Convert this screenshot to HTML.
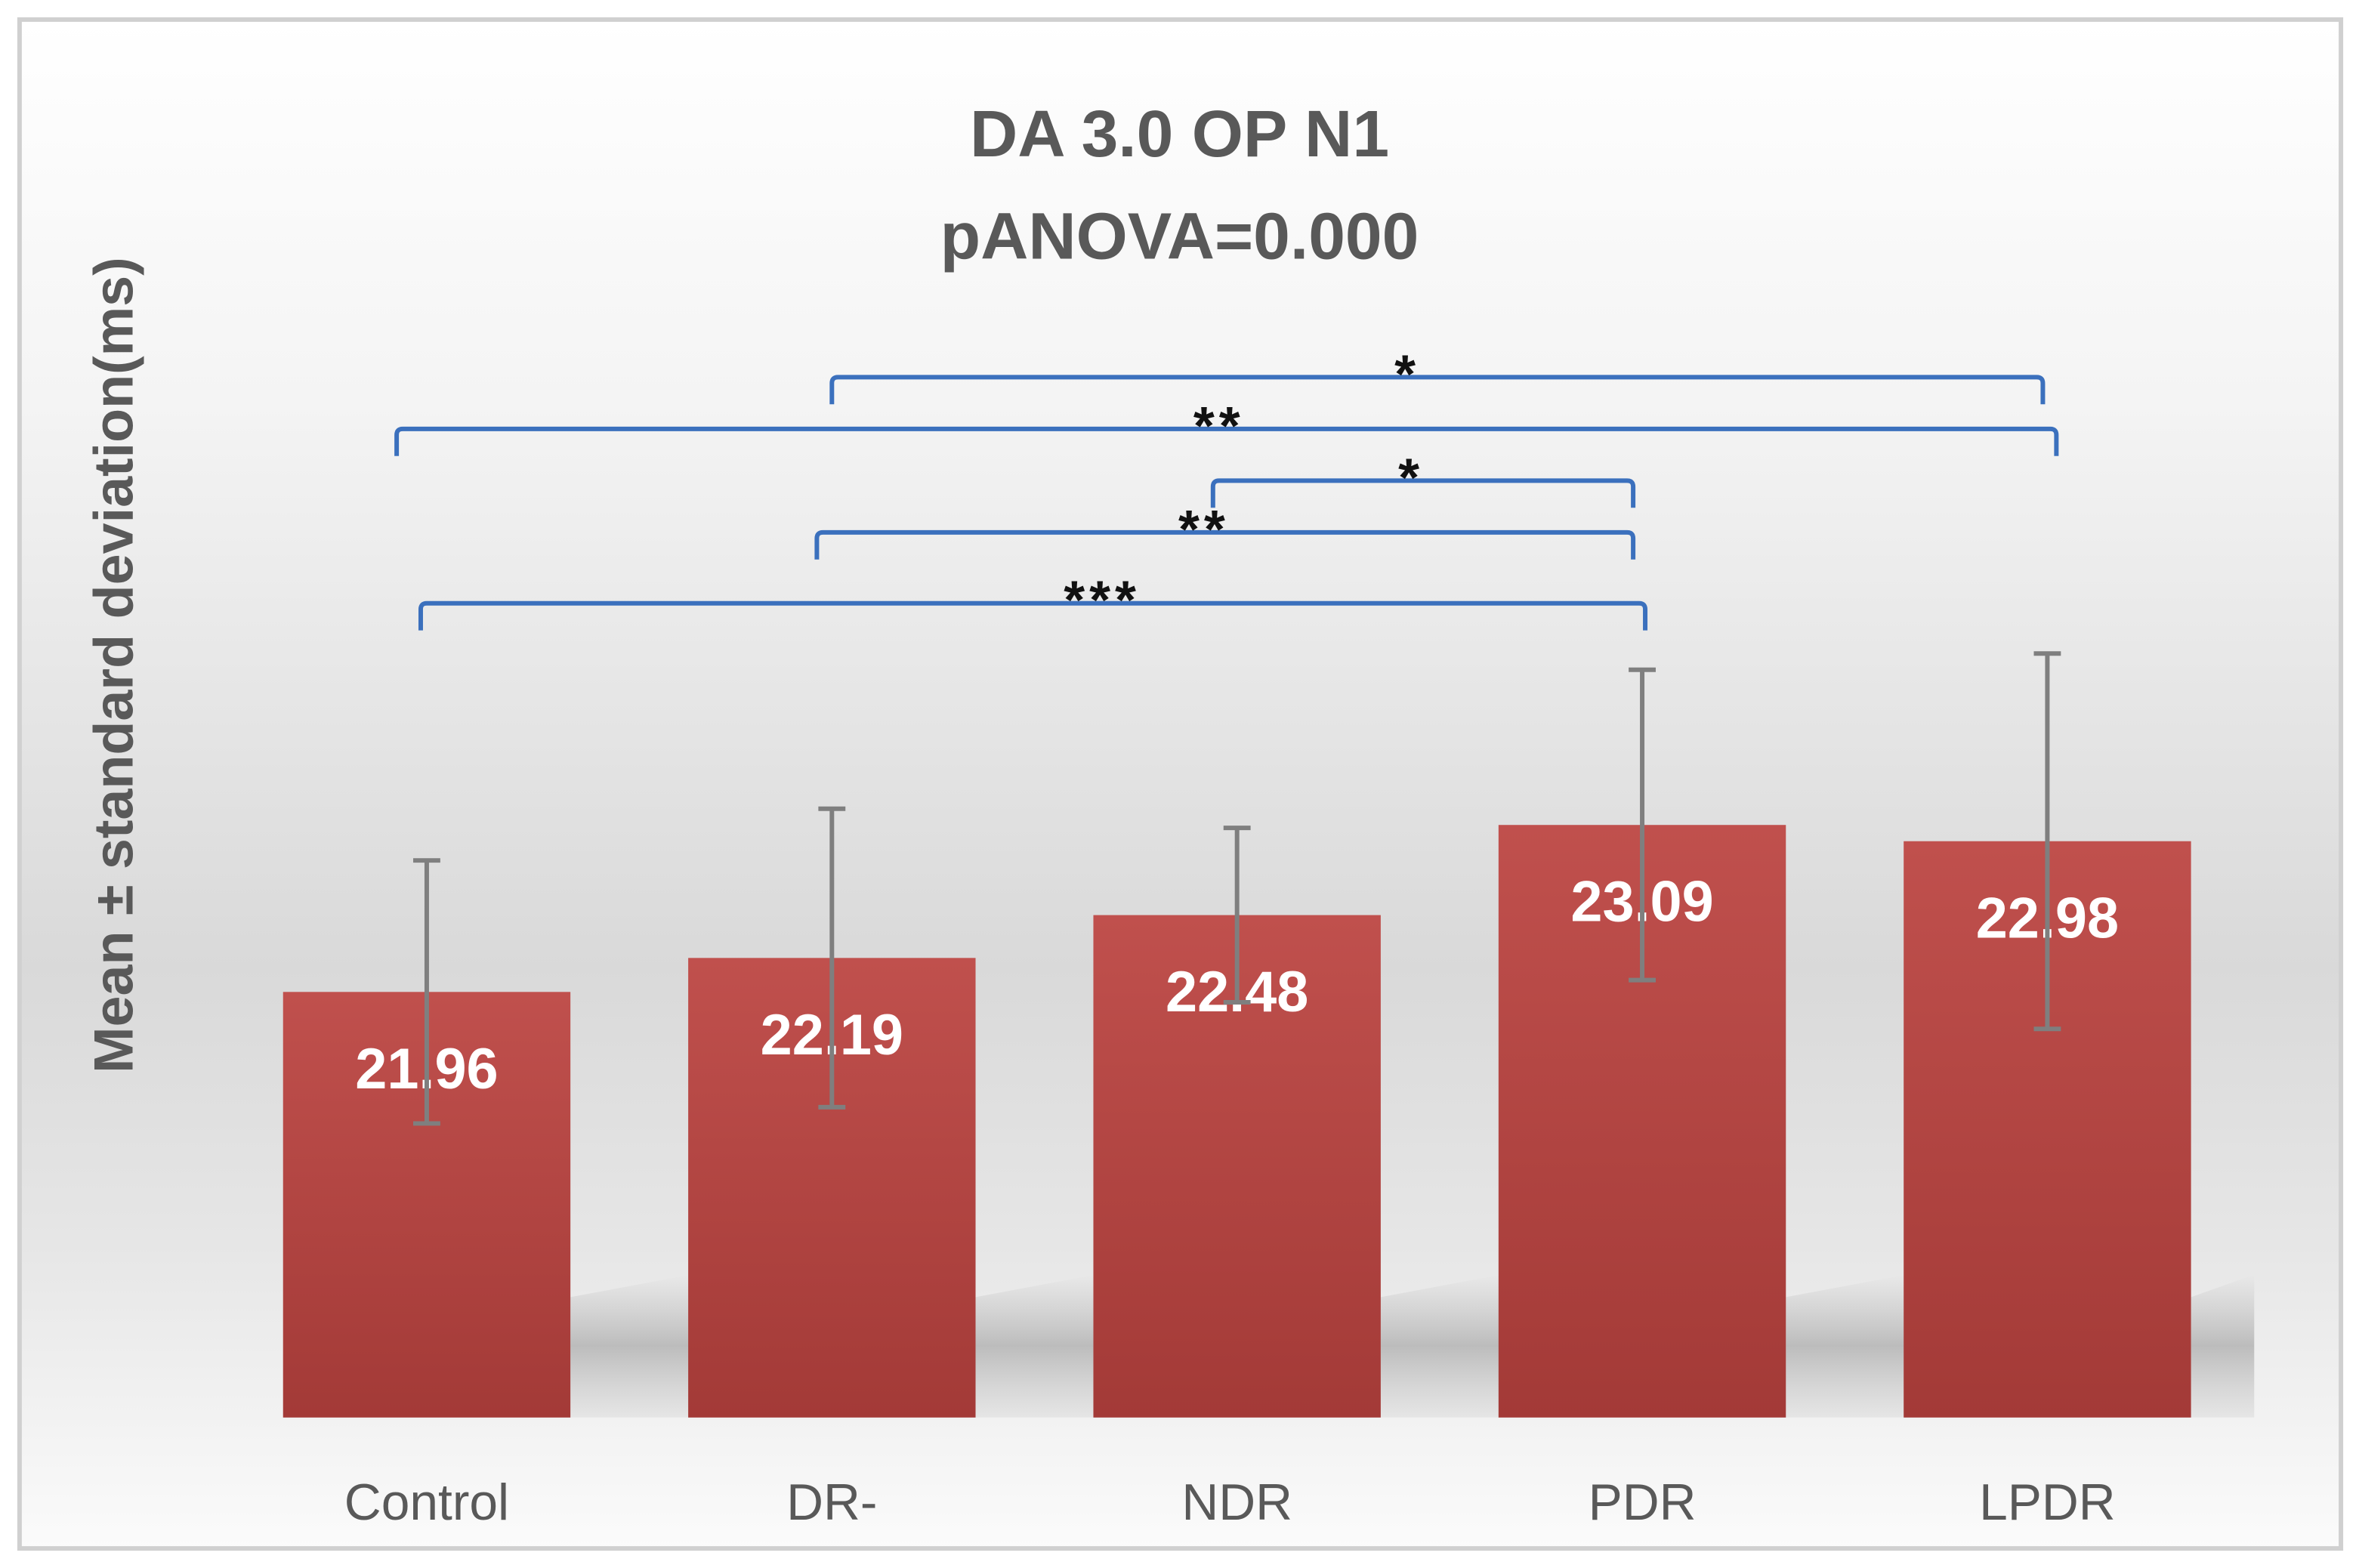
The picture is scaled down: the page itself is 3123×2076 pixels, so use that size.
<!DOCTYPE html>
<html><head><meta charset="utf-8"><style>
html,body{margin:0;padding:0;background:#fff;}
svg{display:block;}
text{font-family:"Liberation Sans","DejaVu Sans",sans-serif;}
</style></head><body>
<svg id="chart" width="3123" height="2076" viewBox="0 0 1568 1042" preserveAspectRatio="none" xmlns="http://www.w3.org/2000/svg">
<defs>
<linearGradient id="bg" x1="0" y1="0" x2="0" y2="1">
<stop offset="0" stop-color="#ffffff"/>
<stop offset="0.25" stop-color="#f4f4f4"/>
<stop offset="0.62" stop-color="#d9d9d9"/>
<stop offset="0.8" stop-color="#e6e6e6"/>
<stop offset="1" stop-color="#fbfbfb"/>
</linearGradient>
<linearGradient id="barg" x1="0" y1="0" x2="0" y2="1">
<stop offset="0" stop-color="#c0504d"/>
<stop offset="1" stop-color="#a33a37"/>
</linearGradient>
<linearGradient id="sh" x1="0" y1="0" x2="0" y2="1">
<stop offset="0" stop-color="#b5b5b5" stop-opacity="0"/>
<stop offset="0.5" stop-color="#b0b0b0" stop-opacity="0.8"/>
<stop offset="1" stop-color="#c8c8c8" stop-opacity="0.3"/>
</linearGradient>
</defs>
<rect x="0" y="0" width="1568" height="1042" fill="#fff"/>
<rect x="13" y="13" width="1543" height="1016" fill="url(#bg)" stroke="#d0d0d0" stroke-width="3"/>
<text x="784" y="104" text-anchor="middle" font-size="44" font-weight="bold" fill="#595959">DA 3.0 OP N1</text>
<text x="784" y="172" text-anchor="middle" font-size="44" font-weight="bold" fill="#595959">pANOVA=0.000</text>
<text transform="translate(88,442) rotate(-90)" text-anchor="middle" font-size="37" font-weight="bold" fill="#595959">Mean ± standard deviation(ms)</text>
<g id="shadows"></g>
<g id="bars"></g>
<g id="brackets"></g>
</svg>
<script>
const categories = ["Control","DR-","NDR","PDR","LPDR"];
const means = [21.96,22.19,22.48,23.09,22.98];
const sds = [0.89,1.01,0.59,1.05,1.27];
const labels = ["21.96","22.19","22.48","23.09","22.98"];
// significance brackets: from/to category index, label, level (value units)
const bracketFrom = [1,0,2,1,0];
const bracketTo = [4,4,3,3,3];
const bracketLabels = ["*","**","*","**","***"];
const bracketLevels = [26.12,25.77,25.42,25.07,24.59];

const NS="http://www.w3.org/2000/svg";
const yMin=19.08, baseY=942, pxPerUnit=98.2;
function yScale(v){return baseY-(v-yMin)*pxPerUnit;}
const plotLeft=149, slot=269.3, barW=191;
function xCenter(i){return plotLeft+slot*(i+0.5);}
const bracketStyle=[{d1:0,d2:-3,lx:-20},{d1:-20,d2:6,lx:-5},{d1:-16,d2:-6,lx:-8},{d1:-10,d2:-6,lx:-14},{d1:-4,d2:2,lx:46}];
function mk(tag,attrs,parent){const e=document.createElementNS(NS,tag);for(const k in attrs)e.setAttribute(k,attrs[k]);parent.appendChild(e);return e;}
const gS=document.getElementById('shadows'),gB=document.getElementById('bars'),gK=document.getElementById('brackets');
const svg=document.getElementById('chart');
categories.forEach((c,i)=>{
  const cx=xCenter(i), top=yScale(means[i]);
  const w=(i===categories.length-1)?42:80;
  const sh=mk('polygon',{points:`${cx+barW/2},${baseY} ${cx+barW/2},${baseY-80} ${cx+barW/2+w},${baseY-95} ${cx+barW/2+w},${baseY}`,fill:'url(#sh)'},gS);
  
  
  const r=mk('rect',{x:cx-barW/2,y:top,width:barW,height:baseY-top,fill:'url(#barg)'},gB);
  
  
  const t=mk('text',{x:cx,y:top+64,'text-anchor':'middle','font-size':38,'font-weight':'bold',fill:'#fff'},gB);
  t.textContent=labels[i];
  
  
  const hi=yScale(means[i]+sds[i]), lo=yScale(means[i]-sds[i]);
  const eb=mk('path',{d:`M${cx},${hi}V${lo}M${cx-9},${hi}H${cx+9}M${cx-9},${lo}H${cx+9}`,stroke:'#7f7f7f','stroke-width':3,fill:'none'},gB);
  
  
  const xl=mk('text',{x:cx,y:1010,'text-anchor':'middle','font-size':34,fill:'#595959'},svg);
  xl.textContent=c;
  
  
});
bracketFrom.forEach((f,k)=>{
  const s=bracketStyle[k];
  const x1=xCenter(f)+s.d1, x2=xCenter(bracketTo[k])+s.d2, y=yScale(bracketLevels[k]);
  const p=mk('path',{d:`M${x1},${y+18}V${y+4}Q${x1},${y} ${x1+4},${y}H${x2-4}Q${x2},${y} ${x2},${y+4}V${y+18}`,stroke:'#3b70bd','stroke-width':3,fill:'none'},gK);
  
  
  const t=mk('text',{x:(x1+x2)/2+s.lx,y:y+10,'text-anchor':'middle','font-size':36,'font-weight':'bold',fill:'#111','letter-spacing':3},gK);
  t.textContent=bracketLabels[k];
  
  
});
</script>
</body></html>
